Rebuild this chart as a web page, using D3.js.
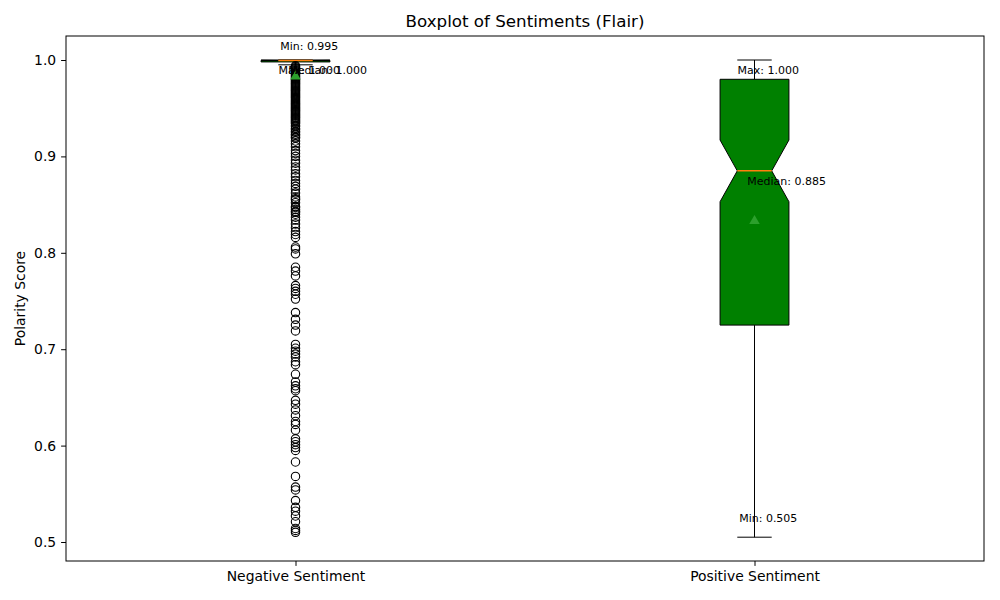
<!DOCTYPE html>
<html>
<head>
<meta charset="utf-8">
<script src="https://cdn.jsdelivr.net/npm/d3@7"></script>
<style>
  body { margin: 0; background: #fff; }
  text { font-family: "DejaVu Sans", sans-serif; }
</style>
</head>
<body>
<div id="chart"></div>
<script>
// categories and box statistics
const categories = ['Negative Sentiment', 'Positive Sentiment'];
const q1Values = [0.998, 0.725];
const medianValues = [0.9995, 0.885];
const q3Values = [1.0, 0.98];
const whiskerLow = [0.995, 0.505];
const whiskerHigh = [1.0, 1.0];
const meanValues = [0.984, 0.834];
const notchLow = [0.9993, 0.853];
const notchHigh = [0.9997, 0.917];
const boxFill = ['#008000', '#008000'];

// outliers of the negative group
const negativeOutliers = [
  0.994, 0.993, 0.992, 0.991, 0.990, 0.989, 0.988, 0.987, 0.986, 0.985,
  0.984, 0.983, 0.982, 0.981, 0.980, 0.979, 0.978, 0.977, 0.976, 0.975,
  0.974, 0.973, 0.972, 0.971, 0.970, 0.969, 0.968, 0.967, 0.966, 0.965,
  0.964, 0.963, 0.962, 0.961, 0.960, 0.959, 0.958, 0.957, 0.956, 0.955,
  0.954, 0.953, 0.952, 0.951, 0.950, 0.949, 0.948, 0.947, 0.946, 0.945,
  0.944, 0.943, 0.942, 0.941, 0.940, 0.939, 0.938, 0.937, 0.936, 0.935,
  0.934, 0.932, 0.931, 0.929, 0.928, 0.926, 0.925, 0.923, 0.922, 0.920,
  0.919, 0.916, 0.913, 0.910, 0.906, 0.903, 0.900, 0.896, 0.893, 0.889,
  0.886, 0.882, 0.879, 0.875, 0.872, 0.869, 0.866, 0.862, 0.858, 0.856,
  0.855, 0.852, 0.848, 0.847, 0.845, 0.843, 0.842, 0.840, 0.837, 0.834,
  0.830, 0.826, 0.822, 0.819, 0.816, 0.806, 0.804, 0.799, 0.785, 0.781,
  0.776, 0.766, 0.763, 0.760, 0.757, 0.752, 0.738, 0.731, 0.725, 0.719,
  0.705, 0.701, 0.698, 0.695, 0.692, 0.687, 0.684, 0.674, 0.666, 0.662,
  0.659, 0.657, 0.647, 0.643, 0.637, 0.631, 0.625, 0.622, 0.616, 0.607,
  0.604, 0.601, 0.598, 0.595, 0.583, 0.568, 0.557, 0.554, 0.543, 0.536,
  0.532, 0.527, 0.521, 0.514, 0.512, 0.510
];
const outliers = [negativeOutliers, []];
const yTicks = [0.5, 0.6, 0.7, 0.8, 0.9, 1.0];

const width = 1000, height = 600;
const margin = { top: 36, right: 16, bottom: 39, left: 66 };

const svg = d3.select('#chart').append('svg')
  .attr('width', width)
  .attr('height', height);

// matplotlib-like positions 1..n with xlim 0.5..n+0.5
const x = d3.scaleLinear()
  .domain([0.5, categories.length + 0.5])
  .range([margin.left, width - margin.right]);
const y = d3.scaleLinear()
  .domain([0.4803, 1.0249])
  .range([height - margin.bottom, margin.top]);

const boxW = 0.15;   // box width in data units
const capW = boxW / 2;

const g = svg.append('g');

categories.forEach((cat, i) => {
  const pos = i + 1;
  const grp = g.append('g');
  const xl = x(pos - boxW / 2), xr = x(pos + boxW / 2);
  const xnl = x(pos - boxW / 4), xnr = x(pos + boxW / 4);
  const xc = x(pos);

  // whiskers
  grp.append('line')
    .attr('x1', xc).attr('x2', xc)
    .attr('y1', y(q1Values[i])).attr('y2', y(whiskerLow[i]))
    .attr('stroke', '#000').attr('stroke-width', 1);
  grp.append('line')
    .attr('x1', xc).attr('x2', xc)
    .attr('y1', y(q3Values[i])).attr('y2', y(whiskerHigh[i]))
    .attr('stroke', '#000').attr('stroke-width', 1);
  // caps
  [whiskerLow[i], whiskerHigh[i]].forEach(v => {
    grp.append('line')
      .attr('x1', x(pos - capW / 2)).attr('x2', x(pos + capW / 2))
      .attr('y1', y(v)).attr('y2', y(v))
      .attr('stroke', '#000').attr('stroke-width', 1);
  });

  // notched box
  const pts = [
    [xl, y(q1Values[i])], [xl, y(notchLow[i])], [xnl, y(medianValues[i])],
    [xl, y(notchHigh[i])], [xl, y(q3Values[i])], [xr, y(q3Values[i])],
    [xr, y(notchHigh[i])], [xnr, y(medianValues[i])], [xr, y(notchLow[i])],
    [xr, y(q1Values[i])]
  ];
  grp.append('path')
    .attr('d', d3.line()(pts) + 'Z')
    .attr('fill', boxFill[i])
    .attr('stroke', '#000')
    .attr('stroke-width', 1);

  // median
  grp.append('line')
    .attr('x1', xnl).attr('x2', xnr)
    .attr('y1', y(medianValues[i])).attr('y2', y(medianValues[i]))
    .attr('stroke', '#ff7f0e').attr('stroke-width', 1.5);

  // outliers
  grp.selectAll('circle.flier')
    .data(outliers[i])
    .enter().append('circle')
    .attr('class', 'flier')
    .attr('cx', xc)
    .attr('cy', d => y(d))
    .attr('r', 4.2)
    .attr('fill', 'none')
    .attr('stroke', '#000')
    .attr('stroke-width', 1.1);

  // mean marker
  grp.append('path')
    .attr('d', d3.symbol().type(d3.symbolTriangle).size(48))
    .attr('transform', `translate(${xc},${y(meanValues[i]) + 1})`)
    .attr('fill', '#2ca02c');

  // annotations
  const fmt = d3.format('.3f');
  grp.append('text')
    .attr('x', x(pos + 0.03)).attr('y', y(whiskerHigh[i]) + 14)
    .attr('text-anchor', 'middle').attr('font-size', 11)
    .text(`Max: ${fmt(whiskerHigh[i])}`);
  grp.append('text')
    .attr('x', x(pos + 0.07)).attr('y', y(medianValues[i]) + 14)
    .attr('text-anchor', 'middle').attr('font-size', 11)
    .text(`Median: ${fmt(medianValues[i])}`);
  grp.append('text')
    .attr('x', x(pos + 0.03)).attr('y', y(whiskerLow[i]) - 15)
    .attr('text-anchor', 'middle').attr('font-size', 11)
    .text(`Min: ${fmt(whiskerLow[i])}`);
});

// frame
svg.append('rect')
  .attr('x', margin.left).attr('y', margin.top)
  .attr('width', width - margin.left - margin.right)
  .attr('height', height - margin.top - margin.bottom)
  .attr('fill', 'none').attr('stroke', '#000').attr('stroke-width', 1);

// axes
const yAxis = svg.append('g')
  .attr('transform', `translate(${margin.left},0)`)
  .call(d3.axisLeft(y).tickValues(yTicks).tickFormat(d3.format('.1f')).tickSizeOuter(0).tickSize(4.9).tickPadding(4.9));
const xAxis = svg.append('g')
  .attr('transform', `translate(0,${height - margin.bottom})`)
  .call(d3.axisBottom(x).tickValues([1, 2]).tickFormat((d, i) => categories[i]).tickSizeOuter(0).tickSize(4.9).tickPadding(4.9));
[yAxis, xAxis].forEach(a => {
  a.select('.domain').remove();
  a.selectAll('text').attr('font-size', 13.9).attr('font-family', 'DejaVu Sans').attr('fill', '#000');
  a.selectAll('line').attr('stroke', '#000');
});

svg.append('text')
  .attr('transform', `translate(21,${(margin.top + height - margin.bottom) / 2}) rotate(-90)`)
  .attr('text-anchor', 'middle').attr('dominant-baseline', 'middle')
  .attr('font-size', 13.9)
  .text('Polarity Score');

svg.append('text')
  .attr('x', (margin.left + width - margin.right) / 2).attr('y', 27)
  .attr('text-anchor', 'middle').attr('font-size', 16.7)
  .text('Boxplot of Sentiments (Flair)');
</script>
</body>
</html>
